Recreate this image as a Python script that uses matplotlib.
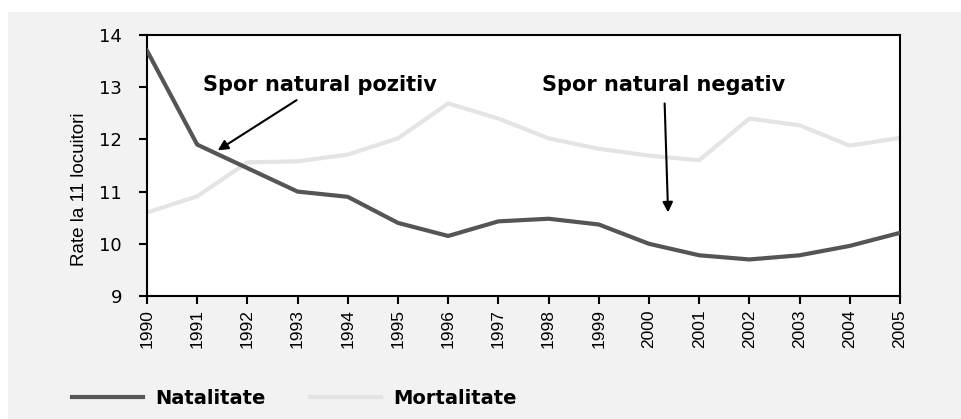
import matplotlib.pyplot as plt
from matplotlib.patches import Rectangle

plt.rcParams['font.family'] = ['DejaVu Sans']

years = list(range(1990, 2006))
natalitate = [13.7, 11.9, 11.45, 11.0, 10.9, 10.4, 10.15, 10.43, 10.48, 10.37,
              10.0, 9.78, 9.7, 9.78, 9.96, 10.21]
mortalitate = [10.6, 10.91, 11.56, 11.58, 11.71, 12.02, 12.69, 12.4, 12.02, 11.82,
               11.69, 11.6, 12.4, 12.27, 11.88, 12.03]

fig = plt.figure(figsize=(9.62, 4.19), dpi=100)
fig.patch.set_facecolor('white')
fig.patches.append(Rectangle((8 / 962, 0), 1, 1 - 12 / 419, transform=fig.transFigure,
                             facecolor='#f2f2f2', edgecolor='none', zorder=-10))

ax = fig.add_axes([147 / 962, 1 - 296 / 419, 753 / 962, 261 / 419])
ax.set_facecolor('white')

ax.plot(years, natalitate, color='#555555', lw=3, label='Natalitate', zorder=3)
ax.plot(years, mortalitate, color='#e4e4e4', lw=3, label='Mortalitate', zorder=2)

ax.set_xlim(1990, 2005)
ax.set_ylim(9, 14)
ax.set_xticks(years)
ax.set_xticklabels([str(y) for y in years], rotation=90, fontsize=12.5,
                   family='Liberation Sans')
ax.set_yticks(range(9, 15))
ax.tick_params(axis='y', labelsize=13, length=6, width=1.5, direction='out', pad=12)
ax.tick_params(axis='x', length=6, width=1.5, direction='out')
for s in ax.spines.values():
    s.set_linewidth(1.5)
ax.set_ylabel('Rate la 11 locuitori', fontsize=13.5, family='Liberation Sans')
ax.yaxis.set_label_coords(-0.079, 0.41)

# arrows pointing at the gap between the two curves
ax.annotate('Spor natural pozitiv', xy=(1991.41, 11.79), xytext=(1993.45, 13.04),
            ha='center', va='center', fontsize=15, fontweight='bold',
            arrowprops=dict(arrowstyle='-|>', color='black', lw=1.5,
                            shrinkA=3, shrinkB=0, mutation_scale=15))
ax.annotate('Spor natural negativ', xy=(2000.38, 10.6), xytext=(2000.3, 13.04),
            ha='center', va='center', fontsize=15, fontweight='bold',
            arrowprops=dict(arrowstyle='-|>', color='black', lw=1.5,
                            shrinkA=4, shrinkB=0, mutation_scale=15))

fig.legend(loc='center left', bbox_to_anchor=(72 / 962, 1 - 398 / 419), ncol=2,
           frameon=False, prop={'size': 14, 'weight': 'bold'}, borderpad=0,
           borderaxespad=0, handlelength=3.66, handletextpad=0.6, columnspacing=2.3)

fig.savefig('out.png', dpi=100)
